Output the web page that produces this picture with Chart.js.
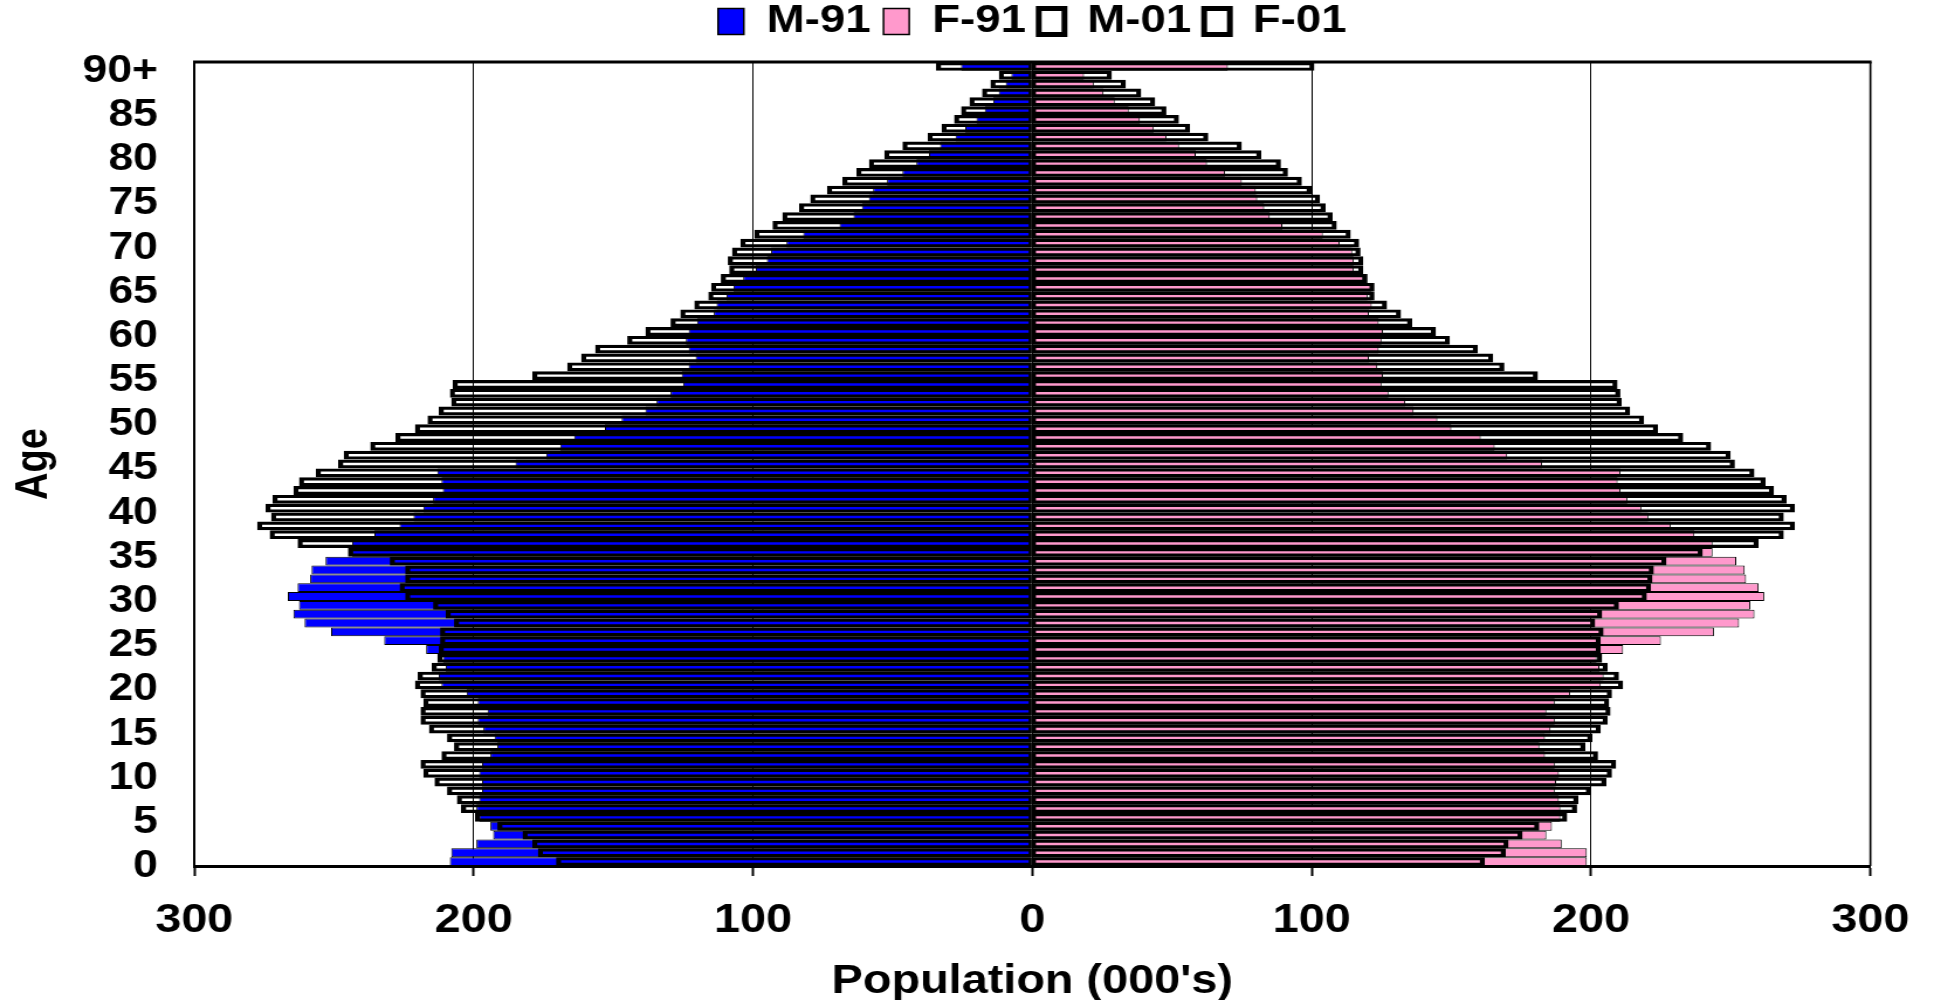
<!DOCTYPE html>
<html>
<head>
<meta charset="utf-8">
<script src="https://cdn.jsdelivr.net/npm/chart.js@4.4.1/dist/chart.umd.min.js"></script>
<style>
html,body{margin:0;padding:0;background:#fff;}
/* the original chart is stretched sideways, so draw narrower and widen with css */
#pyramid{display:block;width:1934px !important;height:1000px !important;}
</style>
</head>
<body>
<canvas id="pyramid" width="1653" height="1000" style="width:1934px;height:1000px"></canvas>
<script>
// ages 0..89 and 90+
const ages = [];
for (let a = 0; a <= 90; a++) ages.push(a === 90 ? '90+' : String(a));

// population in thousands, index = age
const m91 = [208.5,208,199,193,194,198,199,198,197,197,
  198,197,194,191.5,192.5,196.5,198.5,195,198.5,202.5,
  211.5,212.5,210,211,217,232,251,260.5,264.5,262.5,
  266.5,263,258.5,258,253,243.5,243.5,235.5,226.5,221.5,
  218,214.5,211,211.5,213,185,174,169,164,153,
  147,138.5,134.5,129.5,125,125.5,123,120.5,123,124,
  123,120,114,113,109.5,107,103.5,99,95,93.5,
  88,82,69,64,61,58.5,57,52,46.5,41.5,
  37,33,27.5,24,20,17,14,12,9.5,7.5,
  25.5];
const f91 = [198.5,198.5,189.5,184,186,189,189,188.5,187,187.5,
  188.5,187,183.5,181.5,183.5,185.5,187,184,187,192.5,
  203.5,204.5,203,202,211.5,225,244,253,258.5,257,
  262,260,255.5,255,252,243.5,243.5,237,228.5,220.5,
  218,213,210.5,209.5,210.5,182.5,170,165.5,160.5,150,
  145,136.5,133.5,127.5,125,125.5,123.5,120.5,124,125,
  125.5,124,120.5,121.5,120,121.5,118.5,115,115,114.5,
  110,104,89.5,85,83,80.5,80,75,69,62.5,
  58.5,52.5,48,43.5,38.5,34.5,29.5,25.5,22,18.5,
  70];
const m01 = [170.5,177,179,182.5,191.5,199.5,204.5,206,209.5,214,
  218,219,211.5,207,209.5,216,219,219,218,219,
  221,220,215,213,212.5,212,212,207,210,214.5,
  224.5,226.5,224.5,224.5,230,245,263,273,277.5,272.5,
  274.5,272,264.5,262.5,256.5,248.5,246.5,237,228,221,
  216.5,212.5,208,208.5,207.5,179,166.5,161.5,156.5,145,
  138.5,129.5,126,121,116,115,111.5,108.5,109,107.5,
  104.5,99.5,93,89.5,83.5,79.5,73.5,68,63,58.5,
  53,46.5,37.5,32.5,28,25.5,22.5,18,15,12,
  34.5];
const f01 = [162,169.5,170.5,175.5,181.5,191.5,195,195.5,200,205.5,
  207.5,209,202.5,198,200.5,203.5,206,207,206.5,207.5,
  211.5,210,206,204,203.5,203.5,204.5,201.5,204,210,
  220,221.5,222,222.5,227,240,260,269,273,269,
  273,270,265.5,262.5,258.5,251.5,250,243,233,224,
  219,214,211,210.5,209.5,181,169,165,159.5,149.5,
  144.5,136,132,127,122.5,122.5,120,118.5,118.5,117.5,
  117,114,109,107.5,105,103,100,96.5,91.5,89,
  82,75,63,56.5,52.5,48,44,39,33.5,28.5,
  101];

const seriesNames = ['M-91','F-91','M-01','F-01'];
const xMin = -300, xMax = 300, xStep = 100;
const ageTickEvery = 5;

const FONT = "'Liberation Sans', Arial, sans-serif";

// legend: fixed height, centred over the plot
const legendFix = {
  id: 'legendFix',
  beforeLayout(chart){
    const lg = chart.legend;
    if (lg && !lg._patched){
      const fit = lg.fit;
      lg.fit = function(){ fit.call(this); this.height = 62; };
      lg._patched = true;
    }
  },
  afterLayout(chart){
    const lg = chart.legend, ca = chart.chartArea;
    const dx = (ca.left + ca.right)/2 - (lg.left + lg.right)/2;
    lg.left += dx; lg.right += dx;
    lg.top = -9;
  }
};

// top and right edge of the plot frame
const frame = {
  id: 'frame',
  afterDatasetsDraw(chart){
    const {ctx, chartArea:ca} = chart;
    ctx.save();
    ctx.strokeStyle = '#000';
    ctx.lineWidth = 3;
    ctx.beginPath();
    ctx.moveTo(ca.left-1, ca.top); ctx.lineTo(ca.right+1, ca.top);
    ctx.stroke();
    ctx.lineWidth = 1.7;
    ctx.beginPath();
    ctx.moveTo(ca.right, ca.top); ctx.lineTo(ca.right, ca.bottom);
    ctx.stroke();
    ctx.restore();
  }
};

const neg = arr => arr.map(v => -v);

new Chart(document.getElementById('pyramid'), {
  type: 'bar',
  data: {
    labels: ages,
    datasets: [
      {label: seriesNames[0], data: neg(m91), backgroundColor:'#0000FF', borderColor:'#000', borderWidth:1, borderSkipped:false, order:1},
      {label: seriesNames[1], data: f91, backgroundColor:'#FF99CC', borderColor:'#000', borderWidth:1, borderSkipped:false, order:1},
      {label: seriesNames[2], data: neg(m01), backgroundColor:'rgba(0,0,0,0)', borderColor:'#000',
        borderWidth:{top:3.2,bottom:3.2,left:4.3,right:2.6}, borderSkipped:false, order:0},
      {label: seriesNames[3], data: f01, backgroundColor:'rgba(0,0,0,0)', borderColor:'#000',
        borderWidth:{top:3.2,bottom:3.2,left:2.6,right:4.3}, borderSkipped:false, order:0}
    ]
  },
  options: {
    indexAxis: 'y',
    responsive: false,
    animation: false,
    layout: {padding: {right: 51, top: 0, bottom: 0, left: 0}},
    datasets: {bar: {grouped:false, barPercentage:1, categoryPercentage:1, inflateAmount:0}},
    plugins: {
      legend: {
        position: 'top',
        labels: {
          color:'#000', boxWidth:22, boxHeight:26, padding:11,
          font:{family:FONT, size:39, weight:'bold'},
          sort:(a,b) => a.datasetIndex - b.datasetIndex,
          generateLabels(chart){
            const items = Chart.defaults.plugins.legend.labels.generateLabels(chart);
            items.forEach(it => {
              it.lineWidth = it.datasetIndex >= 2 ? 5 : 1.5;
              it.strokeStyle = '#000';
            });
            return items;
          }
        }
      },
      tooltip: {enabled:false}
    },
    scales: {
      x: {
        min: xMin, max: xMax,
        afterFit(s){ s.height = 134; },
        ticks: {stepSize: xStep, color:'#000', padding: 21,
          font:{family:FONT, size:40, weight:'bold'},
          callback: v => Math.abs(v)},
        grid: {color:'#000', lineWidth:1, drawTicks:true, tickLength:10, tickColor:'#000', tickWidth:2},
        border: {display:true, color:'#000', width:3},
        title: {display:true, text:"Population (000's)", color:'#000', padding:{top:0,bottom:0},
          font:{family:FONT, size:40, weight:'bold', lineHeight:0.9}}
      },
      y: {
        reverse: true,
        afterFit(s){ s.width = 166; },
        ticks: {autoSkip:false, color:'#000', padding:31, labelOffset:5,
          font:{family:FONT, size:38, weight:'bold'},
          callback: (v, i) => i % ageTickEvery === 0 ? ages[i] : ''},
        grid: {display:false, drawTicks:false},
        border: {display:true, color:'#000', width:2},
        title: {display:true, text:'Age', color:'#000', padding:{top:11,bottom:0},
          font:{family:FONT, size:38, weight:'bold', lineHeight:1}}
      }
    }
  },
  plugins: [legendFix, frame]
});
</script>
</body>
</html>
